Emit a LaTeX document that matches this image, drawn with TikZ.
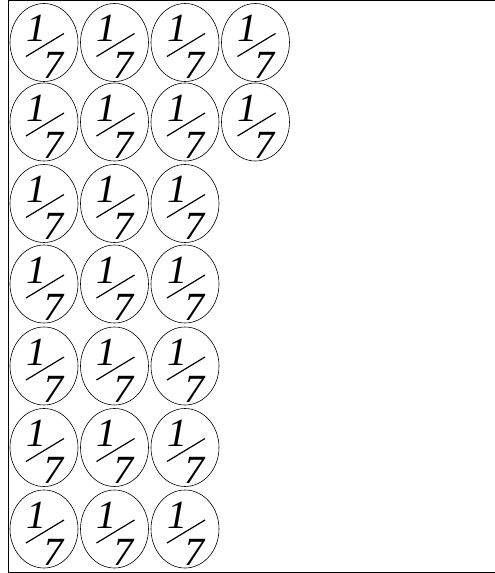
\documentclass[tikz,border=0pt]{standalone}
\usepackage{fontspec}
\setmainfont{Liberation Serif}
\usetikzlibrary{calc, shapes.geometric}
\tikzset{
	cellring/.style={draw, ellipse, line width=0.6pt, minimum width=68pt, minimum height=78pt, inner sep=0pt},
	fracdigit/.style={inner sep=0pt, font=\fontsize{40}{40}\selectfont\itshape},
	fracbar/.style={line width=1.2pt},
}

\begin{document}
\begin{tikzpicture}[x=1pt, y=-1pt]
	% page and frame
	\useasboundingbox (0,0) rectangle (495,573);
	\draw[line width=0.8pt] (495,0.5) -- (8.5,0.5) -- (8.5,572.5) -- (495,572.5);

	% rows of 1/7 cells
	\foreach \r/\y/\n in {1/42.5/4, 2/122/4, 3/203.5/3, 4/284/3, 5/366/3, 6/447.5/3, 7/529/3} {
		\foreach \c in {1,...,\n} {
			\pgfmathsetmacro\x{44+70.5*(\c-1)}
			\node[cellring] (ring-\r-\c) at (\x,\y) {};
			\node[fracdigit] (num-\r-\c) at ($(ring-\r-\c)+(-8,-14)$) {1};
			\node[fracdigit] (den-\r-\c) at ($(ring-\r-\c)+(9,23)$) {7};
			\draw[fracbar] ($(ring-\r-\c)+(-18,14)$) -- ($(ring-\r-\c)+(20,-9)$);
		}
	}
\end{tikzpicture}
\end{document}
